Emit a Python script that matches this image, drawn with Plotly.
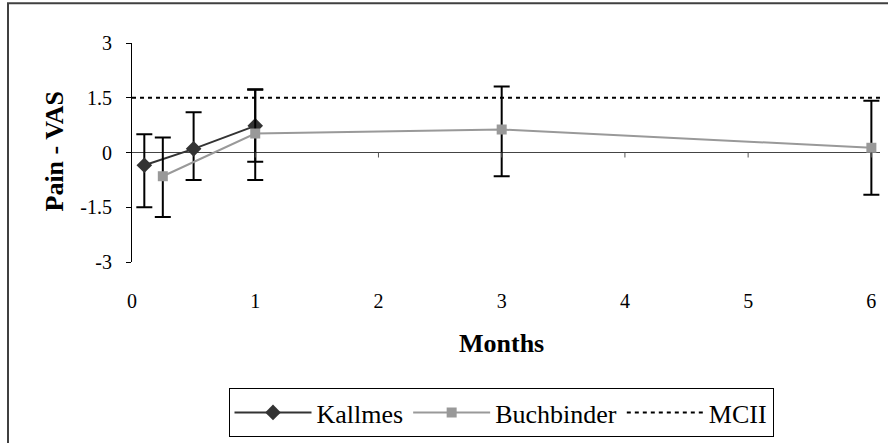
import plotly.graph_objects as go

# Follow-up time points (months) and pain change on the VAS
kallmes_months = [0.1, 0.5, 1]
kallmes_vas = [-0.35, 0.1, 0.73]
kallmes_err_plus = [0.85, 1.0, 1.0]
kallmes_err_minus = [1.15, 0.85, 0.98]

buchbinder_months = [0.25, 1, 3, 6]
buchbinder_vas = [-0.65, 0.52, 0.63, 0.13]
buchbinder_err_plus = [1.06, 1.2, 1.18, 1.29]
buchbinder_err_minus = [1.12, 1.27, 1.28, 1.29]

x_range = [0, 6.07]
mcii_months = x_range
mcii_vas = [1.5, 1.5]

x_ticks = [0, 1, 2, 3, 4, 5, 6]
y_ticks = [-3, -1.5, 0, 1.5, 3]
y_tick_text = ["-3", "-1.5", "0", "1.5", "3"]

FONT = "Liberation Serif"

# plot-area geometry (pixels)
L, R, T, B = 132, 880, 43, 263
W, H = 888, 443
PW, PH = R - L, B - T


def px_x(p):
    return (p - L) / PW


def px_y(p):
    return (B - p) / PH


fig = go.Figure()

fig.add_trace(go.Scatter(
    x=kallmes_months, y=kallmes_vas, name="Kallmes", mode="lines+markers",
    line=dict(color="#333333", width=2), cliponaxis=False,
    marker=dict(symbol="diamond", size=12, color="#333333"),
    error_y=dict(type="data", symmetric=False, array=kallmes_err_plus,
                 arrayminus=kallmes_err_minus, color="black", thickness=2, width=8),
))

fig.add_trace(go.Scatter(
    x=buchbinder_months, y=buchbinder_vas, name="Buchbinder", mode="lines+markers",
    line=dict(color="#999999", width=2), cliponaxis=False,
    marker=dict(symbol="square", size=10, color="#999999"),
    error_y=dict(type="data", symmetric=False, array=buchbinder_err_plus,
                 arrayminus=buchbinder_err_minus, color="black", thickness=2, width=8),
))

fig.add_trace(go.Scatter(
    x=mcii_months, y=mcii_vas, name="MCII", mode="lines",
    line=dict(color="black", width=2, dash="4px,4px"),
))

# small downward tick marks on the zero line
for t in x_ticks[1:]:
    fig.add_shape(type="line", xref="x", yref="y", ysizemode="pixel", yanchor=0,
                  x0=t, x1=t, y0=0, y1=-5, line=dict(color="#555555", width=1))

# outer chart frame (top and left edges)
fig.add_shape(type="rect", xref="paper", yref="paper",
              x0=px_x(8), x1=px_x(W + 20), y0=px_y(H + 20), y1=px_y(3),
              line=dict(color="#404040", width=2), layer="below")

fig.update_layout(
    width=W, height=H,
    margin=dict(l=L, r=W - R, t=T, b=H - B),
    paper_bgcolor="white", plot_bgcolor="white",
    font=dict(family=FONT, color="black", size=20),
    showlegend=True,
    legend=dict(orientation="h", x=px_x(501), xanchor="center",
                y=px_y(412.5), yanchor="middle",
                bordercolor="black", borderwidth=1,
                font=dict(size=26, family=FONT, color="black"),
                itemwidth=77, tracegroupgap=0),
    xaxis=dict(range=x_range, tickvals=x_ticks, showgrid=False, zeroline=False,
               showline=False, ticks="",
               tickfont=dict(size=20, family=FONT, color="black"),
               ticklabelstandoff=25),
    yaxis=dict(range=[-3, 3], tickvals=y_ticks, ticktext=y_tick_text, showgrid=False,
               zeroline=True, zerolinecolor="#444444", zerolinewidth=1,
               showline=True, linecolor="black", linewidth=1,
               ticks="outside", ticklen=5, tickcolor="black",
               tickfont=dict(size=20, family=FONT, color="black"),
               ticklabelstandoff=10),
    annotations=[
        dict(text="<b>Pain - VAS</b>", xref="paper", yref="paper",
             x=px_x(55), y=px_y(152), xanchor="center", yanchor="middle",
             textangle=-90, showarrow=False,
             font=dict(size=26, family=FONT)),
        dict(text="<b>Months</b>", xref="paper", yref="paper",
             x=px_x(501), y=px_y(345), xanchor="center", yanchor="middle",
             showarrow=False, font=dict(size=26, family=FONT)),
    ],
)

fig.write_html("out.html")
